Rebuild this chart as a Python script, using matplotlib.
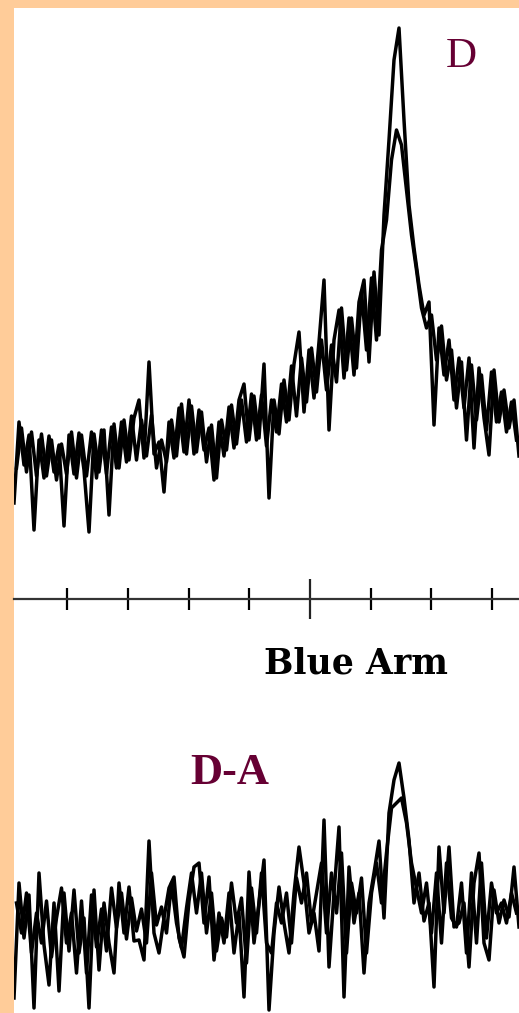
import numpy as np
import matplotlib.pyplot as plt

# ------------------ data ------------------
# x grid: offset units, 10 units per ruler tick, 0 at the long tick
wave0 = -48.8
dwave = 0.824

# upper panel "D": two overlapping exposures (relative flux)
d_flux_a = [37, 118, 75, 105, 10, 100, 62, 104, 68, 95,
            14, 105, 66, 107, 70, 8, 106, 68, 110, 25,
            116, 72, 120, 80, 122, 140, 82, 178, 86, 98,
            48, 118, 82, 132, 88, 140, 86, 130, 90, 112,
            60, 118, 84, 133, 92, 140, 156, 100, 144, 102,
            176, 42, 140, 106, 160, 120, 176, 208, 128, 190,
            142, 198, 260, 110, 200, 230, 162, 222, 165, 238,
            260, 178, 268, 205, 325, 400, 480, 512, 420, 335,
            292, 255, 225, 238, 115, 212, 165, 200, 140, 182,
            132, 182, 92, 172, 122, 85, 170, 118, 150, 112,
            140, 84]
d_flux_b = [72, 112, 68, 108, 64, 106, 64, 100, 60, 96,
            66, 108, 62, 105, 64, 108, 62, 110, 66, 113,
            72, 118, 78, 124, 80, 120, 84, 125, 72, 100,
            78, 120, 84, 136, 86, 134, 88, 128, 78, 115,
            62, 120, 90, 135, 96, 140, 98, 146, 100, 145,
            94, 140, 108, 156, 118, 174, 124, 182, 138, 192,
            148, 200, 150, 195, 158, 232, 170, 222, 172, 248,
            190, 262, 200, 290, 320, 380, 410, 395, 350, 305,
            270, 232, 212, 225, 180, 214, 160, 190, 132, 178,
            100, 175, 120, 165, 110, 168, 118, 148, 108, 138,
            100]

# lower panel "D-A": difference spectrum
da_flux_a = [15, 130, 75, 118, 5, 140, 68, 28, 110, 22,
             120, 62, 123, 60, 95, 5, 123, 43, 110, 70,
             40, 130, 80, 126, 72, 73, 53, 172, 80, 60,
             95, 125, 136, 75, 56, 112, 146, 150, 90, 136,
             53, 100, 70, 120, 60, 100, 16, 141, 70, 110,
             153, 3, 80, 126, 90, 60, 120, 166, 130, 80,
             100, 62, 193, 46, 120, 186, 16, 146, 90, 120,
             40, 110, 140, 172, 95, 200, 233, 250, 215, 173,
             110, 140, 92, 110, 26, 166, 100, 166, 86, 90,
             110, 46, 130, 160, 70, 53, 123, 90, 113, 96,
             146, 86]
da_flux_b = [110, 80, 120, 60, 100, 70, 112, 56, 95, 125,
             70, 100, 40, 112, 40, 118, 66, 104, 62, 125,
             85, 120, 74, 115, 82, 104, 70, 140, 88, 106,
             80, 130, 90, 65, 105, 140, 100, 140, 80, 120,
             62, 95, 76, 130, 90, 115, 50, 125, 80, 140,
             70, 60, 110, 90, 120, 70, 135, 110, 140, 90,
             120, 150, 80, 140, 100, 160, 60, 130, 100, 135,
             60, 120, 150, 110, 160, 205, 210, 215, 190, 150,
             125, 100, 130, 80, 140, 70, 150, 95, 86, 130,
             60, 140, 70, 150, 75, 130, 100, 110, 90, 120,
             100]

ruler_ticks = [-40, -30, -20, -10, 0, 10, 20, 30]
ruler_major = [0]

# ------------------ figure ------------------
W, H = 519, 1013
fig = plt.figure(figsize=(W / 100, H / 100), dpi=100)
fig.patch.set_facecolor('#ffcc99')

def box(x0, y0, x1, y1):
    # pixel box (top-left origin) -> figure rect
    return [x0 / W, 1 - y1 / H, (x1 - x0) / W, (y1 - y0) / H]

bg = fig.add_axes(box(14, 8, W, H))
bg.set_facecolor('white')
bg.set_xticks([])
bg.set_yticks([])
for s in bg.spines.values():
    s.set_visible(False)

xlim = (wave0, wave0 + dwave * 101)

def spectrum_axes(rect, ymax):
    ax = fig.add_axes(rect)
    ax.patch.set_alpha(0)
    ax.set_xlim(*xlim)
    ax.set_ylim(0, ymax)
    ax.axis('off')
    return ax

def wave(vals, shift):
    return wave0 + shift + dwave * np.arange(len(vals))

LW = 2.5

# upper spectrum
ax1 = spectrum_axes(box(14, 8, W, 540), 532)
ax1.plot(wave(d_flux_a, 0), d_flux_a, color='black', lw=LW)
ax1.plot(wave(d_flux_b, dwave / 2), d_flux_b, color='black', lw=LW)

# lower spectrum
ax2 = spectrum_axes(box(14, 745, W, H), 268)
ax2.plot(wave(da_flux_a, 0), da_flux_a, color='black', lw=LW)
ax2.plot(wave(da_flux_b, dwave / 2), da_flux_b, color='black', lw=LW)

# wavelength ruler
axr = fig.add_axes(box(14, 569, W, 629))
axr.patch.set_alpha(0)
axr.set_xlim(*xlim)
axr.set_yticks([])
for side in ['top', 'left', 'right']:
    axr.spines[side].set_visible(False)
axr.spines['bottom'].set_position(('axes', 0.5))
axr.spines['bottom'].set_color('#333333')
axr.spines['bottom'].set_linewidth(1.6)
axr.set_xticks([t for t in ruler_ticks if t not in ruler_major])
axr.set_xticks(ruler_major, minor=True)
axr.tick_params(axis='x', which='major', direction='inout', length=16,
                width=1.6, color='black', labelbottom=False)
axr.tick_params(axis='x', which='minor', direction='inout', length=29,
                width=1.6, color='#222222', labelbottom=False)

# labels
fig.text(461 / W, 1 - 57 / H, 'D', color='#660033', fontsize=31,
         family='Liberation Serif', ha='center', va='center')
fig.text(230 / W, 1 - 773 / H, 'D-A', color='#660033', fontsize=32,
         family='Liberation Serif', fontweight='bold', ha='center', va='center')
fig.text(356 / W, 1 - 664 / H, 'Blue Arm', color='black', fontsize=25,
         family='DejaVu Serif', fontweight='bold', ha='center', va='center')

fig.savefig('out.png', dpi=100, facecolor=fig.get_facecolor())
